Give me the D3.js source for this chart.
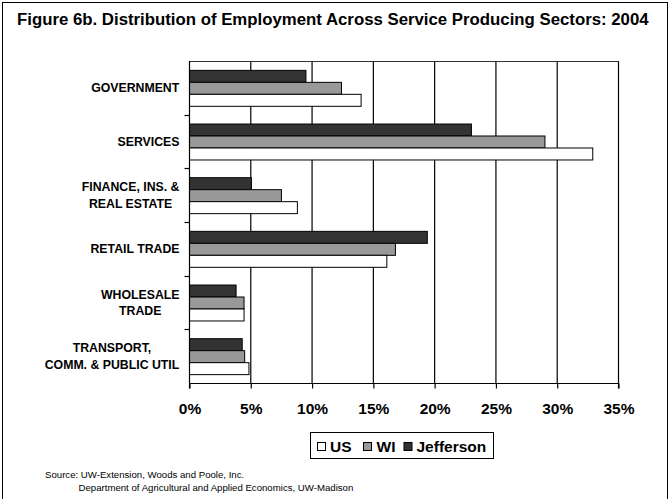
<!DOCTYPE html>
<html><head><meta charset="utf-8">
<script src="https://cdn.jsdelivr.net/npm/d3@7"></script>
<style>
html,body{margin:0;padding:0;background:#fff;}
svg{display:block;font-family:Arial,"Liberation Sans",Helvetica,sans-serif;}
</style></head>
<body>
<svg id="chart" width="668" height="499"></svg>
<script>
const categories = ["GOVERNMENT", "SERVICES", "FINANCE, INS. & REAL ESTATE", "RETAIL TRADE", "WHOLESALE TRADE", "TRANSPORT, COMM. & PUBLIC UTIL"];
const categoryLines = [["GOVERNMENT"], ["SERVICES"], ["FINANCE, INS. &", "REAL ESTATE"], ["RETAIL TRADE"], ["WHOLESALE", "TRADE"], ["TRANSPORT,", "COMM. & PUBLIC UTIL"]];
const seriesNames = ["US", "WI", "Jefferson"];
const usValues = [14.0, 32.9, 8.8, 16.1, 4.45, 4.85];
const wiValues = [12.4, 29.0, 7.5, 16.8, 4.45, 4.5];
const jeffersonValues = [9.5, 23.0, 5.05, 19.4, 3.8, 4.3];
const xTicks = [0, 5, 10, 15, 20, 25, 30, 35];
const titleText = "Figure 6b. Distribution of Employment Across Service Producing Sectors: 2004";
const sourceLines = ["Source: UW-Extension, Woods and Poole, Inc.", "Department of Agricultural and Applied Economics, UW-Madison"];

const colors = {US: "#ffffff", WI: "#999999", Jefferson: "#333333"};
const seriesData = {US: usValues, WI: wiValues, Jefferson: jeffersonValues};

const svg = d3.select("#chart");
// outer frame
svg.append("rect").attr("x", 2.5).attr("y", 2.5).attr("width", 665).attr("height", 500)
  .attr("fill", "#fff").attr("stroke", "#000").attr("stroke-width", 1);

// title
const title = svg.append("text").attr("x", 17).attr("y", 25)
  .attr("font-weight", "bold").attr("font-size", 14).attr("fill", "#000").text(titleText);
const tw = title.node().getComputedTextLength();
title.attr("font-size", 14 * 632 / tw);

const L = 189, R = 618, T = 61, B = 383;
const x = d3.scaleLinear().domain([0, 35]).range([L, R]);
const y = d3.scaleBand().domain(categories).range([T, B]).paddingInner(0.33).paddingOuter(0.165);
const drawOrder = ["Jefferson", "WI", "US"];
const yInner = d3.scaleBand().domain(drawOrder).range([0, y.bandwidth()]);

// gridlines
svg.append("g").selectAll("line").data(xTicks.filter(d => d > 0)).join("line")
  .attr("x1", d => x(d) + 0.5).attr("x2", d => x(d) + 0.5).attr("y1", T).attr("y2", B)
  .attr("stroke", "#000").attr("stroke-width", 1.2);
// plot area top border
svg.append("line").attr("x1", L).attr("x2", R + 0.5).attr("y1", T + 0.5).attr("y2", T + 0.5)
  .attr("stroke", "#333").attr("stroke-width", 1.2);

// bars
const rows = [];
categories.forEach((c, i) => drawOrder.forEach(s => rows.push({c, s, v: seriesData[s][i]})));
svg.append("g").selectAll("rect").data(rows).join("rect")
  .attr("x", x(0) + 0.5)
  .attr("y", d => y(d.c) + yInner(d.s) + 0.5)
  .attr("width", d => x(d.v) - x(0))
  .attr("height", yInner.bandwidth())
  .attr("fill", d => colors[d.s]).attr("stroke", "#000").attr("stroke-width", 1);

// x axis
const xAxis = d3.axisBottom(x).tickValues(xTicks).tickSize(5).tickFormat(d => d + "%");
const gx = svg.append("g").attr("transform", `translate(0.5,${B + 0.5})`).call(xAxis);
gx.select(".domain").attr("stroke", "#000").attr("stroke-width", 1.2).attr("d", `M${L},5V0H${R}V5`);
gx.selectAll(".tick line").attr("stroke", "#000").attr("stroke-width", 1.2);
gx.selectAll(".tick text").attr("font-size", 15.5).attr("font-weight", "bold")
  .attr("font-family", "Arial, 'Liberation Sans', sans-serif").attr("fill", "#000").attr("dy", 0).attr("y", 30);

// y axis
const gy = svg.append("g").attr("transform", `translate(${L + 0.5},0)`);
gy.append("line").attr("x1", 0).attr("x2", 0).attr("y1", T).attr("y2", B).attr("stroke", "#000").attr("stroke-width", 1.2);
const step = y.step();
const boundaries = d3.range(1, categories.length).map(i => T + i * step);
gy.selectAll("line.tk").data(boundaries).join("line").attr("class", "tk")
  .attr("x1", -5).attr("x2", 0).attr("y1", d => Math.round(d) + 0.5).attr("y2", d => Math.round(d) + 0.5)
  .attr("stroke", "#000").attr("stroke-width", 1.2);

// category labels
const labelG = svg.append("g");
categories.forEach((c, i) => {
  const lines = categoryLines[i];
  const cy = y(c) + y.bandwidth() / 2;
  const lh = 16.5;
  const t = labelG.append("text").attr("text-anchor", "middle")
    .attr("font-size", 12.3).attr("font-weight", "bold").attr("fill", "#000");
  lines.forEach((ln, j) => {
    t.append("tspan").attr("x", 0).attr("y", cy + (j - (lines.length - 1) / 2) * lh + 4.4).text(ln);
  });
  const w = t.node().getBBox().width;
  t.attr("transform", `translate(${179.5 - w / 2},0)`);
});

// legend
const lg = svg.append("g");
lg.append("rect").attr("x", 310.5).attr("y", 432.5).attr("width", 183).attr("height", 26)
  .attr("fill", "#fff").attr("stroke", "#000").attr("stroke-width", 1);
const legendItems = [{s: "US", sx: 317, tx: 330}, {s: "WI", sx: 363, tx: 376.5}, {s: "Jefferson", sx: 403.5, tx: 416.5}];
legendItems.forEach(it => {
  lg.append("rect").attr("x", it.sx + 0.5).attr("y", 442.5).attr("width", 8).attr("height", 8)
    .attr("fill", colors[it.s]).attr("stroke", "#000").attr("stroke-width", 1);
  lg.append("text").attr("x", it.tx).attr("y", 451.5).attr("font-size", 15.5).attr("font-weight", "bold")
    .attr("fill", "#000").text(it.s);
});

// source
const s2 = svg.append("text").attr("x", 78.5).attr("y", 491).attr("font-size", 9).attr("fill", "#000").text(sourceLines[1]);
const srcSize = 9 * 275 / s2.node().getComputedTextLength();
s2.attr("font-size", srcSize);
svg.append("text").attr("x", 45).attr("y", 478).attr("font-size", srcSize).attr("fill", "#000").text(sourceLines[0]);
</script>
</body></html>
